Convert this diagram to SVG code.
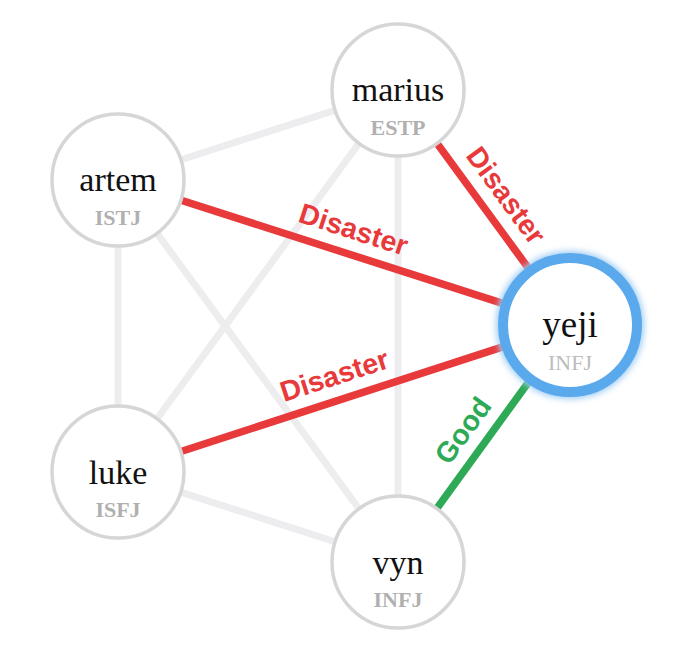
<svg xmlns="http://www.w3.org/2000/svg" width="680" height="659" viewBox="0 0 680 659">
<style>
.bg{fill:#ffffff}
.edge{stroke:#ededf0;stroke-width:7;stroke-linecap:butt;fill:none}
.bad{stroke:#e8393b;stroke-width:7.5;fill:none}
.good{stroke:#2eaa57;stroke-width:7.5;fill:none}
.node{fill:#ffffff;stroke:#d6d6d6;stroke-width:3.5}
.focus{fill:#ffffff;stroke:#5aa9ec;stroke-width:10}
.name{font-family:"Liberation Serif","Times New Roman",serif;font-size:34px;fill:#111111;text-anchor:middle}
.type{font-family:"Liberation Serif","Times New Roman",serif;font-size:22px;font-weight:bold;fill:#b0b0b0;text-anchor:middle}
.typef{font-family:"Liberation Serif","Times New Roman",serif;font-size:22px;fill:#bcbcbc;text-anchor:middle}
.lbl{font-family:"Liberation Sans",Arial,sans-serif;font-size:28.5px;font-weight:bold;text-anchor:middle}
</style>
<defs>
<filter id="glow" x="-30%" y="-30%" width="160%" height="160%">
<feGaussianBlur stdDeviation="3"/>
</filter>
</defs>
<rect class="bg" x="0" y="0" width="680" height="659"/>
<g id="connectors">
<line class="edge" x1="398" y1="90" x2="118" y2="180"/>
<line class="edge" x1="398" y1="90" x2="118" y2="472"/>
<line class="edge" x1="398" y1="90" x2="398" y2="562"/>
<line class="edge" x1="118" y1="180" x2="118" y2="472"/>
<line class="edge" x1="118" y1="180" x2="398" y2="562"/>
<line class="edge" x1="118" y1="472" x2="398" y2="562"/>
<line class="bad" x1="118" y1="180" x2="570" y2="325"/>
<line class="bad" x1="398" y1="90" x2="570" y2="325"/>
<line class="bad" x1="118" y1="472" x2="570" y2="325"/>
<line class="good" x1="398" y1="562" x2="570" y2="325"/>
<text class="lbl" fill="#e8393b" transform="translate(346 253) rotate(17.79)" y="-15">Disaster</text>
<text class="lbl" fill="#e8393b" transform="translate(486 210) rotate(53.8)" y="-15">Disaster</text>
<text class="lbl" fill="#e8393b" transform="translate(342 399) rotate(-18.01)" y="-15">Disaster</text>
<text class="lbl" fill="#2eaa57" transform="translate(483 445) rotate(-54.03)" y="-15">Good</text>
</g>
<g id="node-marius">
<circle class="node" cx="398" cy="90" r="66"/>
<text class="name" x="398" y="101">marius</text>
<text class="type" x="398" y="135">ESTP</text>
</g>
<g id="node-artem">
<circle class="node" cx="118" cy="180" r="66"/>
<text class="name" x="118" y="191">artem</text>
<text class="type" x="118" y="225">ISTJ</text>
</g>
<g id="node-luke">
<circle class="node" cx="118" cy="472" r="66"/>
<text class="name" x="118" y="484">luke</text>
<text class="type" x="118" y="517">ISFJ</text>
</g>
<g id="node-vyn">
<circle class="node" cx="398" cy="562" r="66"/>
<text class="name" x="398" y="574">vyn</text>
<text class="type" x="398" y="607">INFJ</text>
</g>
<g id="node-yeji">
<circle cx="570" cy="325" r="67" fill="none" stroke="#9fcdf5" stroke-width="14" filter="url(#glow)"/>
<circle class="focus" cx="570" cy="325" r="67"/>
<text class="name" x="570" y="337" style="font-size:37px">yeji</text>
<text class="typef" x="570" y="370">INFJ</text>
</g>
</svg>
